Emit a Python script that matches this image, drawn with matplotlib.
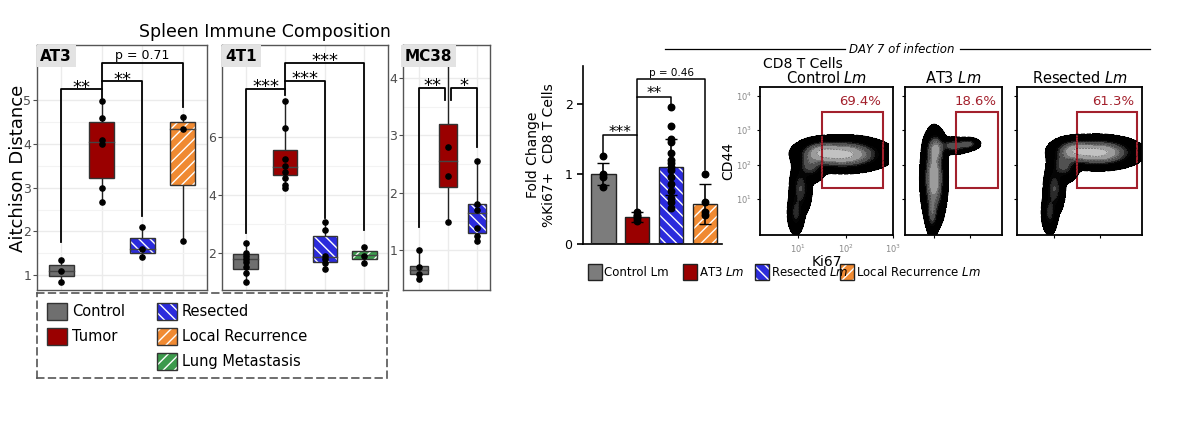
import numpy as np
import matplotlib
matplotlib.use("Agg")
import matplotlib.pyplot as plt
from matplotlib.patches import Rectangle

W, H = 1200, 423
fig = plt.figure(figsize=(12, 4.23), dpi=100)
fig.patch.set_facecolor("white")

def ax_px(x0, y0, x1, y1, **kw):
    return fig.add_axes([x0 / W, 1 - y1 / H, (x1 - x0) / W, (y1 - y0) / H], **kw)

C_CTRL, C_TUM, C_RES, C_LR, C_LUNG = "#6f6f6f", "#9a0000", "#2b2bdc", "#f08a32", "#3c9a4c"
STYLE = {"Control": (C_CTRL, None), "Tumor": (C_TUM, None), "Resected": (C_RES, "\\\\\\"),
         "Local Recurrence": (C_LR, "///"), "Lung Metastasis": (C_LUNG, "///")}

# ---------------- data: box stats (whislo, q1, med, q3, whishi) and points
at3_groups = ["Control", "Tumor", "Resected", "Local Recurrence"]
at3_stats = [(0.85, 0.97, 1.1, 1.23, 1.35), (2.67, 3.23, 4.05, 4.5, 4.97),
             (1.42, 1.5, 1.6, 1.85, 2.1), (1.78, 3.05, 4.35, 4.5, 4.62)]
at3_points = [[0.85, 1.1, 1.35], [2.67, 3.0, 4.0, 4.1, 4.6, 4.97], [1.42, 1.6, 2.1], [1.78, 4.35, 4.62]]
t41_groups = ["Control", "Tumor", "Resected", "Lung Metastasis"]
t41_stats = [(1.0, 1.45, 1.8, 1.97, 2.35), (4.25, 4.7, 4.95, 5.55, 7.25),
             (1.45, 1.7, 1.85, 2.58, 3.05), (1.65, 1.8, 1.92, 2.08, 2.2)]
t41_points = [[1.0, 1.3, 1.5, 1.7, 1.8, 1.9, 2.0, 2.35], [4.25, 4.35, 4.6, 4.8, 5.0, 5.25, 6.3, 7.25],
              [1.45, 1.65, 1.8, 1.9, 2.8, 3.05], [1.65, 1.9, 2.2]]
mc_groups = ["Control", "Tumor", "Resected"]
mc_stats = [(0.5, 0.58, 0.65, 0.72, 1.0), (1.48, 2.1, 2.55, 3.2, 4.35), (1.15, 1.3, 1.65, 1.8, 2.55)]
mc_points = [[0.5, 0.58, 0.7, 1.0], [1.48, 2.3, 2.8, 4.35], [1.15, 1.25, 1.38, 1.7, 1.8, 2.55]]

# brackets: (x1, x2, y, leg1, leg2, label)
at3_br = [(1, 2, 5.25, 1.75, 5.05, "**"), (2, 3, 5.43, 5.25, 2.35, "**"), (2, 4, 5.85, 5.43, 4.85, "p = 0.71")]
t41_br = [(1, 2, 7.66, 2.7, 7.45, "***"), (2, 3, 7.93, 7.66, 3.2, "***"), (2, 4, 8.55, 7.93, 2.8, "***")]
mc_br = [(1, 1.9, 3.83, 1.4, 3.62, "**"), (2.1, 3, 3.83, 3.62, 2.8, "*")]

def box_panel(ax, name, groups, stats, points, brackets, ylim, xlim, yticks):
    ax.set_xlim(*xlim); ax.set_ylim(*ylim)
    ax.set_facecolor("white")
    ax.grid(True, color="#ebebeb", lw=1.0)
    ax.set_axisbelow(True)
    ax.set_xticks(range(1, len(groups) + 1)); ax.set_xticklabels([])
    ax.tick_params(axis="x", length=0)
    ax.set_yticks(yticks)
    ax.set_yticks([(a + b) / 2 for a, b in zip(yticks[:-1], yticks[1:])], minor=True)
    ax.grid(True, which="minor", axis="y", color="#f3f3f3", lw=0.8)
    ax.tick_params(axis="y", labelsize=9, labelcolor="#4d4d4d", color="#4d4d4d", length=3, pad=1)
    ax.tick_params(axis="y", which="minor", length=0)
    for s in ax.spines.values():
        s.set_color("#555555"); s.set_linewidth(1.0)
    bw = 0.62
    for i, (g, st, pts) in enumerate(zip(groups, stats, points)):
        x = i + 1
        col, hatch = STYLE[g]
        lo, q1, med, q3, hi = st
        ax.plot([x, x], [lo, hi], color="#222", lw=1.0, zorder=2)
        ax.add_patch(Rectangle((x - bw / 2, q1), bw, q3 - q1, facecolor=col, edgecolor="white" if hatch else col,
                               hatch=hatch, lw=0, zorder=3))
        ax.add_patch(Rectangle((x - bw / 2, q1), bw, q3 - q1, facecolor="none", edgecolor="#333", lw=1.0, zorder=4))
        ax.plot([x - bw / 2, x + bw / 2], [med, med], color="#444", lw=1.0, zorder=5)
        ax.scatter([x] * len(pts), pts, s=14, color="black", zorder=6)
    for x1, x2, y, l1, l2, lab in brackets:
        ax.plot([x1, x1, x2, x2], [l1, y, y, l2], color="black", lw=1.3, zorder=7, clip_on=False)
        fs = 9 if lab.startswith("p") else 13
        ax.text((x1 + x2) / 2, y + (ylim[1] - ylim[0]) * (0.005 if lab.startswith("p") else -0.03), lab,
                ha="center", va="bottom", fontsize=fs, zorder=8)
    ax.text(0.02, 0.985, name, transform=ax.transAxes, ha="left", va="top", fontsize=11, fontweight="bold",
            bbox=dict(boxstyle="square,pad=0.25", fc="#e3e3e3", ec="none"), zorder=9)

a1 = ax_px(37, 45, 207, 290)
box_panel(a1, "AT3", at3_groups, at3_stats, at3_points, at3_br, (0.66, 6.26), (0.4, 4.6), [1, 2, 3, 4, 5])
fig.text(18 / W, 1 - 168 / H, "Aitchison Distance", rotation=90, ha="center", va="center", fontsize=13)
a2 = ax_px(222, 45, 388, 290)
box_panel(a2, "4T1", t41_groups, t41_stats, t41_points, t41_br, (0.72, 9.17), (0.4, 4.6), [2, 4, 6])
a3 = ax_px(403, 45, 490, 290)
box_panel(a3, "MC38", mc_groups, mc_stats, mc_points, mc_br, (0.30, 4.58), (0.45, 3.45), [1, 2, 3, 4])
fig.text(265 / W, 1 - 32 / H, "Spleen Immune Composition", ha="center", va="center", fontsize=12.5)

# legend box (left)
lg = ax_px(37, 293, 387, 378)
lg.set_xlim(0, 350); lg.set_ylim(85, 0); lg.set_xticks([]); lg.set_yticks([])
for s in lg.spines.values():
    s.set_linestyle((0, (4, 3))); s.set_color("#555"); s.set_linewidth(1.2)
leg_items = [("Control", 10, 10), ("Tumor", 10, 35), ("Resected", 120, 10),
             ("Local Recurrence", 120, 35), ("Lung Metastasis", 120, 60)]
for g, lx, ly in leg_items:
    col, hatch = STYLE[g]
    lg.add_patch(Rectangle((lx, ly), 20, 17, facecolor=col, edgecolor="white" if hatch else col, hatch=hatch, lw=0))
    lg.add_patch(Rectangle((lx, ly), 20, 17, facecolor="none", edgecolor="#333", lw=1))
    lg.text(lx + 25, ly + 8.5, g, va="center", fontsize=10.5)

# ---------------- bar chart
bar_groups = ["Control Lm", "AT3 Lm", "Resected Lm", "Local Recurrence Lm"]
bar_means = [1.0, 0.39, 1.1, 0.57]
bar_errs = [0.16, 0.07, 0.4, 0.29]
bar_points = [[0.82, 0.95, 1.0, 1.25], [0.33, 0.37, 0.4, 0.42, 0.46],
              [0.52, 0.6, 0.65, 0.75, 0.85, 0.95, 1.05, 1.1, 1.15, 1.2, 1.3, 1.45, 1.5, 1.68, 1.95],
              [0.42, 0.45, 0.6, 1.0]]
bar_cols = ["#7c7c7c", C_TUM, C_RES, C_LR]
bar_hatch = [None, None, "\\\\\\", "///"]
bar_br = [(0, 1, 1.55, 1.27, 0.5, "***"), (1, 2, 2.1, 1.55, 1.98, "**"), (1, 3, 2.35, 2.1, 1.05, "p = 0.46")]

ab = ax_px(583, 66, 722, 244)
ab.set_xlim(-0.6, 3.5); ab.set_ylim(0, 2.54)
xs = np.arange(len(bar_groups))
for x, m, e, pts, c, h in zip(xs, bar_means, bar_errs, bar_points, bar_cols, bar_hatch):
    ab.bar(x, m, width=0.72, color=c, edgecolor="white" if h else c, hatch=h, lw=0, zorder=2)
    ab.bar(x, m, width=0.72, color="none", edgecolor="#222", lw=1.0, zorder=3)
    ab.errorbar(x, m, yerr=e, color="black", capsize=4, lw=1.2, zorder=4)
    ab.scatter([x] * len(pts), pts, s=22, color="black", zorder=5)
for x1, x2, y, l1, l2, lab in bar_br:
    ab.plot([x1, x1, x2, x2], [l1, y, y, l2], color="black", lw=1.1, clip_on=False)
    p = lab.startswith("p")
    ab.text((x1 + x2) / 2, y + (0.02 if p else -0.06), lab, ha="center", va="bottom", fontsize=7.5 if p else 11)
ab.set_yticks([0, 1, 2])
ab.set_xticks([])
ab.spines["top"].set_visible(False); ab.spines["right"].set_visible(False)
ab.spines["left"].set_linewidth(1.2); ab.spines["bottom"].set_linewidth(1.2)
ab.tick_params(axis="y", labelsize=9, length=4, width=1.2)
ab.set_ylabel("Fold Change\n%Ki67+  CD8 T Cells", fontsize=10, labelpad=6)

bl = ax_px(585, 262, 1010, 282)
bl.set_xlim(0, 425); bl.set_ylim(20, 0); bl.axis("off")
bleg = [(3, "Control Lm", None), (98, "AT3 ", "Lm"), (170, "Resected ", "Lm"), (255, "Local Recurrence ", "Lm")]
for (lx, t1, t2), c, h in zip(bleg, bar_cols, bar_hatch):
    bl.add_patch(Rectangle((lx, 2), 14, 16, facecolor=c, edgecolor="white" if h else c, hatch=h, lw=0))
    bl.add_patch(Rectangle((lx, 2), 14, 16, facecolor="none", edgecolor="#222", lw=1))
    lab = t1 if t2 is None else t1 + r"$\it{" + t2 + "}$"
    bl.text(lx + 16, 10, lab, va="center", fontsize=8.5)

# ---------------- flow plots
fig.add_artist(plt.Line2D([665 / W, 845 / W], [1 - 49 / H] * 2, color="black", lw=0.9))
fig.add_artist(plt.Line2D([960 / W, 1150 / W], [1 - 49 / H] * 2, color="black", lw=0.9))
fig.text(902 / W, 1 - 49 / H, "DAY 7 of infection", ha="center", va="center", fontsize=8.5, style="italic")
fig.text(763 / W, 1 - 64 / H, "CD8 T Cells", ha="left", va="center", fontsize=10)

flow_titles = ["Control", "AT3", "Resected"]
flow_pct = ["69.4%", "18.6%", "61.3%"]
# blobs: (x, y, sx, sy, weight) in log10 units
flow_blobs = [
    [(1.95, 2.3, 0.35, 0.18, 1.0), (1.5, 2.35, 0.2, 0.15, 0.6), (1.25, 2.0, 0.13, 0.2, 0.3),
     (1.05, 1.3, 0.09, 0.3, 0.25), (0.95, 0.6, 0.07, 0.25, 0.2)],
    [(1.0, 1.6, 0.13, 0.5, 0.8), (1.05, 2.45, 0.12, 0.2, 0.5), (1.55, 2.55, 0.2, 0.09, 0.35),
     (1.95, 2.6, 0.13, 0.07, 0.3), (0.95, 0.6, 0.07, 0.25, 0.3)],
    [(1.95, 2.35, 0.33, 0.17, 1.0), (1.45, 2.4, 0.2, 0.15, 0.6), (1.2, 2.0, 0.13, 0.2, 0.3),
     (1.0, 1.3, 0.09, 0.3, 0.25), (0.9, 0.6, 0.07, 0.25, 0.2)],
]
gate = (1.49, 1.32, 2.79, 3.52)
flow_px = [(760, 893), (905, 1002), (1017, 1142)]
XL, YL = (0.19, 2.9), (-0.05, 4.26)
gx, gy = np.meshgrid(np.linspace(*XL, 300), np.linspace(*YL, 300))
for k, ((x0, x1), blobs) in enumerate(zip(flow_px, flow_blobs)):
    af = ax_px(x0, 87, x1, 235)
    af.set_xlim(*XL); af.set_ylim(*YL)
    dens = np.zeros_like(gx)
    for bx, by, sx, sy, w in blobs:
        dens += w * np.exp(-0.5 * (((gx - bx) / sx) ** 2 + ((gy - by) / sy) ** 2))
    ld = np.log10(dens + 1e-12)
    lv = np.linspace(-2.2, 0.1, 14)
    af.contourf(gx, gy, ld, levels=lv, cmap="gray", vmin=-0.9, vmax=0.3, extend="max")
    af.contour(gx, gy, ld, levels=lv[::2], colors="black", linewidths=0.4, alpha=0.6)
    af.contour(gx, gy, ld, levels=[-2.2], colors="black", linewidths=0.8)
    xg0, yg0, xg1, yg1 = gate
    if k == 1:
        xg0 = 1.62
    af.add_patch(Rectangle((xg0, yg0), xg1 - xg0, yg1 - yg0, fill=False, edgecolor="#a3202c", lw=1.5))
    af.text(xg1 - 0.05, yg1 + 0.12, flow_pct[k], ha="right", va="bottom", color="#a3202c", fontsize=9.5)
    af.set_title(flow_titles[k] + r" $\it{Lm}$", fontsize=10.5, pad=3)
    for s in af.spines.values():
        s.set_linewidth(1.3)
    af.set_xticks([1, 2, 3] if k == 0 else [1, 2])
    af.set_yticks([1, 2, 3, 4])
    af.tick_params(length=2, labelsize=6, labelcolor="#888")
    if k == 0:
        af.set_xticklabels(["$10^1$", "$10^2$", "$10^3$"])
        af.set_yticklabels(["$10^1$", "$10^2$", "$10^3$", "$10^4$"])
        af.set_xlabel("Ki67", fontsize=10, labelpad=0)
        af.set_ylabel("CD44", fontsize=10, labelpad=1)
    else:
        af.set_xticklabels([]); af.set_yticklabels([])

fig.savefig("out.png", dpi=100, facecolor="white")
